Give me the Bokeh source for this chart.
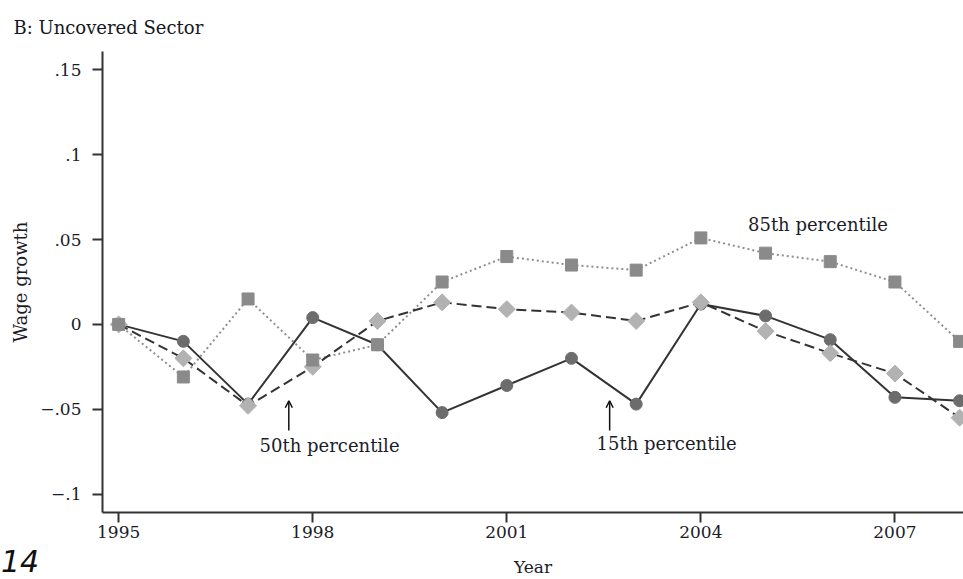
from bokeh.plotting import figure
from bokeh.models import Range1d, FixedTicker, Label, Arrow, OpenHead, GridBox, Div
from bokeh.embed import file_html
from bokeh.resources import INLINE

# ---- data ----
years = [1995, 1996, 1997, 1998, 1999, 2000, 2001, 2002, 2003, 2004, 2005, 2006, 2007, 2008]
p15 = [0.0, -0.010, -0.047, 0.004, -0.012, -0.052, -0.036, -0.020, -0.047, 0.012, 0.005, -0.009, -0.043, -0.045]
p50 = [0.0, -0.020, -0.048, -0.025, 0.002, 0.013, 0.009, 0.007, 0.002, 0.013, -0.004, -0.017, -0.029, -0.055]
p85 = [0.0, -0.031, 0.015, -0.021, -0.012, 0.025, 0.040, 0.035, 0.032, 0.051, 0.042, 0.037, 0.025, -0.010]

x_ticks = [1995, 1998, 2001, 2004, 2007]
x_tick_labels = ["1995", "1998", "2001", "2004", "2007"]
y_ticks = [-0.1, -0.05, 0.0, 0.05, 0.1, 0.15]
y_tick_labels = ["\u2212.1", "\u2212.05", "0", ".05", ".1", ".15"]

title_text = "B: Uncovered Sector"
x_label = "Year"
y_label = "Wage growth"
page_number = "14"

SERIF = "DejaVu Serif"
TXT = "#1c1c28"

p = figure(width=963, height=579, output_backend="svg", toolbar_location=None,
           title=title_text,
           x_range=Range1d(1994.75, 2008.06), y_range=Range1d(-0.1109, 0.1609),
           min_border_left=102, min_border_right=0, min_border_top=50, min_border_bottom=67)
p.outline_line_color = None
p.xgrid.visible = False
p.ygrid.visible = False
p.background_fill_color = "white"
p.border_fill_color = "white"

p.title.align = "left"
p.title.offset = -89
p.title.standoff = 28
p.title.text_font = SERIF
p.title.text_font_size = "18px"
p.title.text_font_style = "normal"
p.title.text_color = "#161622"

for ax in (p.xaxis[0], p.yaxis[0]):
    ax.axis_line_color = "#333333"
    ax.axis_line_width = 2
    ax.major_tick_line_color = "#333333"
    ax.major_tick_line_width = 2
    ax.major_tick_in = 0
    ax.major_tick_out = 10
    ax.minor_tick_line_color = None
    ax.major_label_text_font = SERIF
    ax.major_label_text_font_size = "17px"
    ax.major_label_text_color = TXT
    ax.axis_label_text_font = SERIF
    ax.axis_label_text_font_size = "17px"
    ax.axis_label_text_font_style = "normal"
    ax.axis_label_text_color = TXT

p.xaxis.ticker = FixedTicker(ticks=x_ticks)
p.xaxis.major_label_overrides = dict(zip(x_ticks, x_tick_labels))
p.xaxis.major_label_standoff = 3
p.xaxis.axis_label = x_label
p.xaxis.axis_label_standoff = 16

p.yaxis.ticker = FixedTicker(ticks=y_ticks)
p.yaxis.major_label_overrides = dict(zip(y_ticks, y_tick_labels))
p.yaxis.major_label_orientation = "horizontal"
p.yaxis.major_label_standoff = 11
p.yaxis.axis_label = y_label
p.yaxis.axis_label_text_font_size = "18px"
p.yaxis.axis_label_standoff = 6

# lines
p.line(years, p85, line_color="#8f8f8f", line_width=2, line_dash="2 3")
p.line(years, p50, line_color="#333333", line_width=2, line_dash="10 5")
p.line(years, p15, line_color="#333333", line_width=2)

# markers
p.scatter(years, p15, marker="circle", size=12, fill_color="#6c6c6c", line_color="#6c6c6c")
p.scatter(years, p50, marker="square", size=12, angle=0.785398, fill_color="#b2b2b2", line_color="#b2b2b2")
p.scatter(years, p85, marker="square", size=12, fill_color="#8a8a8a", line_color="#8a8a8a")

# annotations
p.add_layout(Label(x=1998.26, y=-0.0715, text="50th percentile", text_align="center",
                   text_baseline="middle", text_font=SERIF, text_font_size="18px", text_color=TXT))
p.add_layout(Label(x=2003.47, y=-0.0705, text="15th percentile", text_align="center",
                   text_baseline="middle", text_font=SERIF, text_font_size="18px", text_color=TXT))
p.add_layout(Label(x=2005.81, y=0.059, text="85th percentile", text_align="center",
                   text_baseline="middle", text_font=SERIF, text_font_size="18px", text_color=TXT))

p.add_layout(Arrow(x_start=1997.63, y_start=-0.0625, x_end=1997.63, y_end=-0.045,
                   line_color="#111111", line_width=1.5,
                   end=OpenHead(size=7, line_color="#111111", line_width=1.5)))
p.add_layout(Arrow(x_start=2002.59, y_start=-0.0625, x_end=2002.59, y_end=-0.045,
                   line_color="#111111", line_width=1.5,
                   end=OpenHead(size=7, line_color="#111111", line_width=1.5)))

div14 = Div(text=page_number, align=("start", "end"), margin=(0, 0, 2, 1),
            styles={"font-family": "DejaVu Sans", "font-style": "italic", "font-size": "30px",
                    "line-height": "1", "color": "#111111"})

layout = GridBox(children=[(p, 0, 0), (div14, 0, 0)])

open("out.html", "w").write(file_html(layout, INLINE))
